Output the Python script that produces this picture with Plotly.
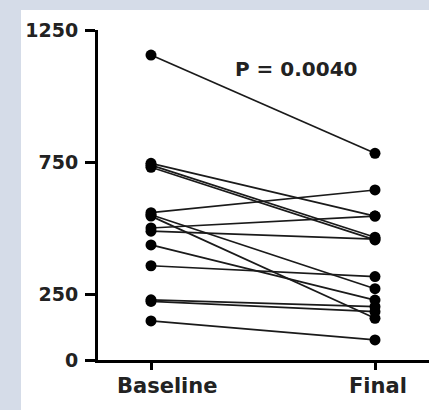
import plotly.graph_objects as go

categories = ["Baseline", "Final"]
baseline = [1155, 745, 738, 730, 558, 550, 545, 500, 488, 436, 357, 228, 222, 148]
final = [783, 545, 465, 455, 644, 270, 158, 545, 458, 227, 316, 202, 183, 76]
y_ticks = [0, 250, 750, 1250]
p_label = "P = 0.0040"

fig = go.Figure()
for b, f in zip(baseline, final):
    fig.add_trace(go.Scatter(
        x=[0, 1], y=[b, f], mode="lines+markers",
        line=dict(color="#1a1a1a", width=1.7),
        marker=dict(color="#000000", size=11),
        showlegend=False, cliponaxis=False, hoverinfo="skip"))

W, H = 429, 410
L, R, T, B = 98, 0, 30, 50
pw = W - L - R
ph = H - T - B
unit = 224.0  # px between the two categories
x0 = -(151 - L) / unit
x1 = x0 + pw / unit

fig.add_shape(type="rect", xref="paper", yref="paper",
              x0=(21 - L) / pw, x1=1.05, y0=-(B + 5) / ph, y1=(ph + T - 10) / ph,
              fillcolor="white", line=dict(width=0), layer="below")

lab_font = dict(family="DejaVu Sans", size=21, color="#222222", weight="bold")
for i, (c, dx) in enumerate(zip(categories, [16, 3])):
    fig.add_annotation(x=i, y=0, xref="x", yref="y", text=c, showarrow=False,
                       yshift=-26, xshift=dx, font=lab_font)

fig.add_annotation(x=0.65, y=1102, xref="x", yref="y", text=p_label, showarrow=False,
                   font=dict(family="DejaVu Sans", size=20, color="#222222", weight="bold"))

fig.update_layout(
    width=W, height=H, margin=dict(l=L, r=R, t=T, b=B, pad=0),
    paper_bgcolor="#d5dce8", plot_bgcolor="white",
    xaxis=dict(range=[x0, x1], tickvals=[0, 1], showticklabels=False,
               showline=True, linecolor="black", linewidth=3,
               ticks="outside", ticklen=7, tickwidth=3, tickcolor="black",
               showgrid=False, zeroline=False, fixedrange=True),
    yaxis=dict(range=[0, 1250], tickvals=y_ticks, showline=True, linecolor="black",
               linewidth=3, ticks="outside", ticklen=10, tickwidth=3, tickcolor="black",
               showgrid=False, zeroline=False, ticklabelstandoff=3,
               tickfont=dict(family="DejaVu Sans", size=19, color="#222222", weight="bold")),
)

fig.write_html("out.html", config={"displayModeBar": False, "staticPlot": True},
               post_script="document.body.style.margin='0';document.body.style.overflow='hidden';")
